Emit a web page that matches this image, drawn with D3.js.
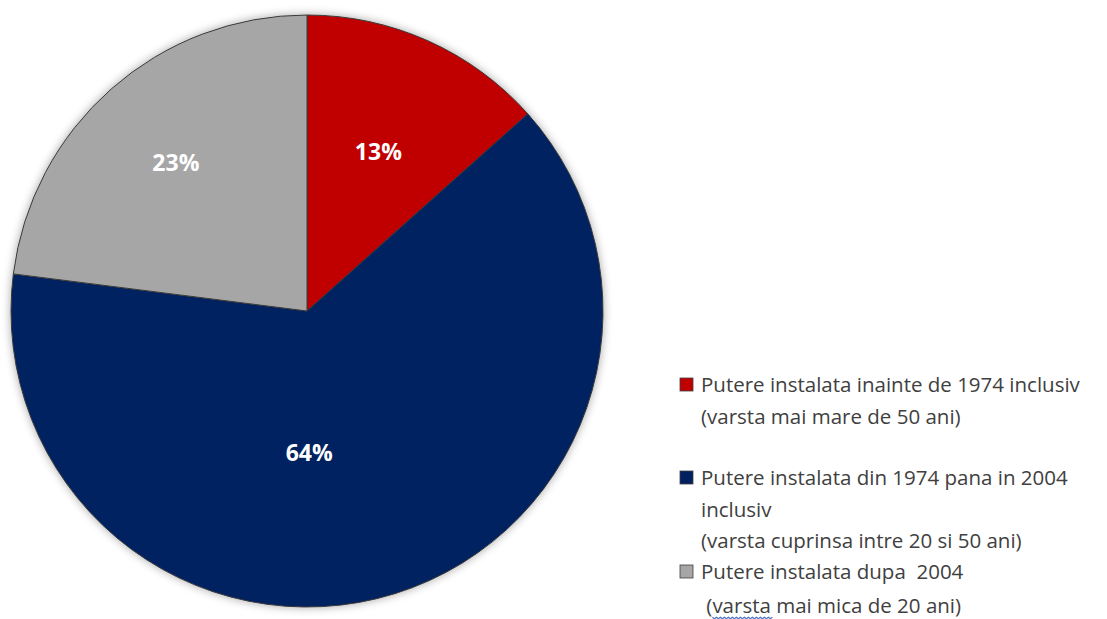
<!DOCTYPE html>
<html>
<head>
<meta charset="utf-8">
<script src="https://cdn.jsdelivr.net/npm/d3@7"></script>
<style>
  body { margin: 0; background: #fff; }
  svg { display: block; }
</style>
</head>
<body>
<div id="chart"></div>
<script>
// slice data, clockwise from 12 o'clock
const categories = [
  "Putere instalata inainte de 1974 inclusiv",
  "Putere instalata din 1974 pana in 2004 inclusiv",
  "Putere instalata dupa 2004"
];
const values = [13.4, 63.6, 23.0];
const pctLabels = ["13%", "64%", "23%"];
const colors = ["#C00000", "#002060", "#A6A6A6"];

// legend text lines per entry
const legendLines = [
  ["Putere instalata inainte de 1974 inclusiv", "(varsta mai mare de 50 ani)"],
  ["Putere instalata din 1974 pana in 2004", "inclusiv", "(varsta cuprinsa intre 20 si 50 ani)"],
  ["Putere instalata dupa  2004", " (varsta mai mica de 20 ani)"]
];

const width = 1107, height = 619;
const cx = 307, cy = 311, radius = 296;

const svg = d3.select("#chart").append("svg")
  .attr("width", width)
  .attr("height", height);

const defs = svg.append("defs");
const shadow = defs.append("filter").attr("id", "glow")
  .attr("x", "-10%").attr("y", "-10%").attr("width", "120%").attr("height", "120%");
shadow.append("feGaussianBlur").attr("in", "SourceAlpha").attr("stdDeviation", 5).attr("result", "b");
shadow.append("feComponentTransfer").attr("in", "b").attr("result", "c")
  .append("feFuncA").attr("type", "linear").attr("slope", 0.35);
const merge = shadow.append("feMerge");
merge.append("feMergeNode").attr("in", "c");
merge.append("feMergeNode").attr("in", "SourceGraphic");

const pie = d3.pie().sort(null).value(d => d)(values);
const arc = d3.arc().innerRadius(0).outerRadius(radius);

const g = svg.append("g").attr("transform", "translate(" + cx + "," + cy + ")");

g.append("g").attr("filter", "url(#glow)")
  .selectAll("path")
  .data(pie)
  .join("path")
  .attr("d", arc)
  .attr("fill", (d, i) => colors[i])
  .attr("stroke", "#3a3a3a")
  .attr("stroke-width", 1);

// label radius as fraction of pie radius; Excel's best-fit puts the big
// slice label near the bottom instead of its centroid
const labelR = [0.59, 0.48, 0.67];
g.selectAll("text.pct")
  .data(pie)
  .join("text")
  .attr("class", "pct")
  .attr("transform", (d, i) => {
    const a = i === 1 ? Math.PI * 0.995 : (d.startAngle + d.endAngle) / 2;
    const r = radius * labelR[i];
    return "translate(" + (r * Math.sin(a)) + "," + (-r * Math.cos(a)) + ")";
  })
  .attr("text-anchor", "middle")
  .attr("dy", "0.36em")
  .attr("fill", "#fff")
  .attr("font-family", "'Open Sans', sans-serif")
  .attr("font-weight", "bold")
  .attr("font-size", 23)
  .text((d, i) => pctLabels[i]);

// legend
const legend = svg.append("g")
  .attr("font-family", "'Open Sans', sans-serif")
  .attr("font-size", 20.5)
  .attr("fill", "#404040");

const entryTop = [385, 478, 572];
const lineStep = 31.5;

legendLines.forEach((lines, i) => {
  const e = legend.append("g").attr("transform", "translate(680," + entryTop[i] + ")");
  e.append("rect")
    .attr("x", 0).attr("y", -7)
    .attr("width", 13).attr("height", 13)
    .attr("fill", colors[i])
    .attr("stroke", "#404040")
    .attr("stroke-width", 0.8);
  lines.forEach((ln, j) => {
    const step = (i === 2 && j === 1) ? 34 : lineStep;
    const t = e.append("text")
      .attr("x", 21)
      .attr("y", j * step)
      .attr("dy", "0.35em")
      .attr("xml:space", "preserve")
      .style("white-space", "pre")
      .text(ln);
    if (i === 2 && j === 1) {
      // spell-check squiggle under "varsta"
      t.text("");
      t.append("tspan").text(" (");
      const w = t.append("tspan").text("varsta");
      t.append("tspan").text(" mai mica de 20 ani)");
      const bb = w.node().getBBox();
      const y0 = bb.y + bb.height - 2;
      let dPath = "M" + bb.x + "," + y0;
      for (let x = bb.x; x < bb.x + bb.width; x += 4) {
        dPath += " L" + (x + 2) + "," + (y0 + 1.5) + " L" + (x + 4) + "," + y0;
      }
      e.append("path").attr("d", dPath)
        .attr("fill", "none").attr("stroke", "#4472C4").attr("stroke-width", 1.2);
    }
  });
});
</script>
</body>
</html>
